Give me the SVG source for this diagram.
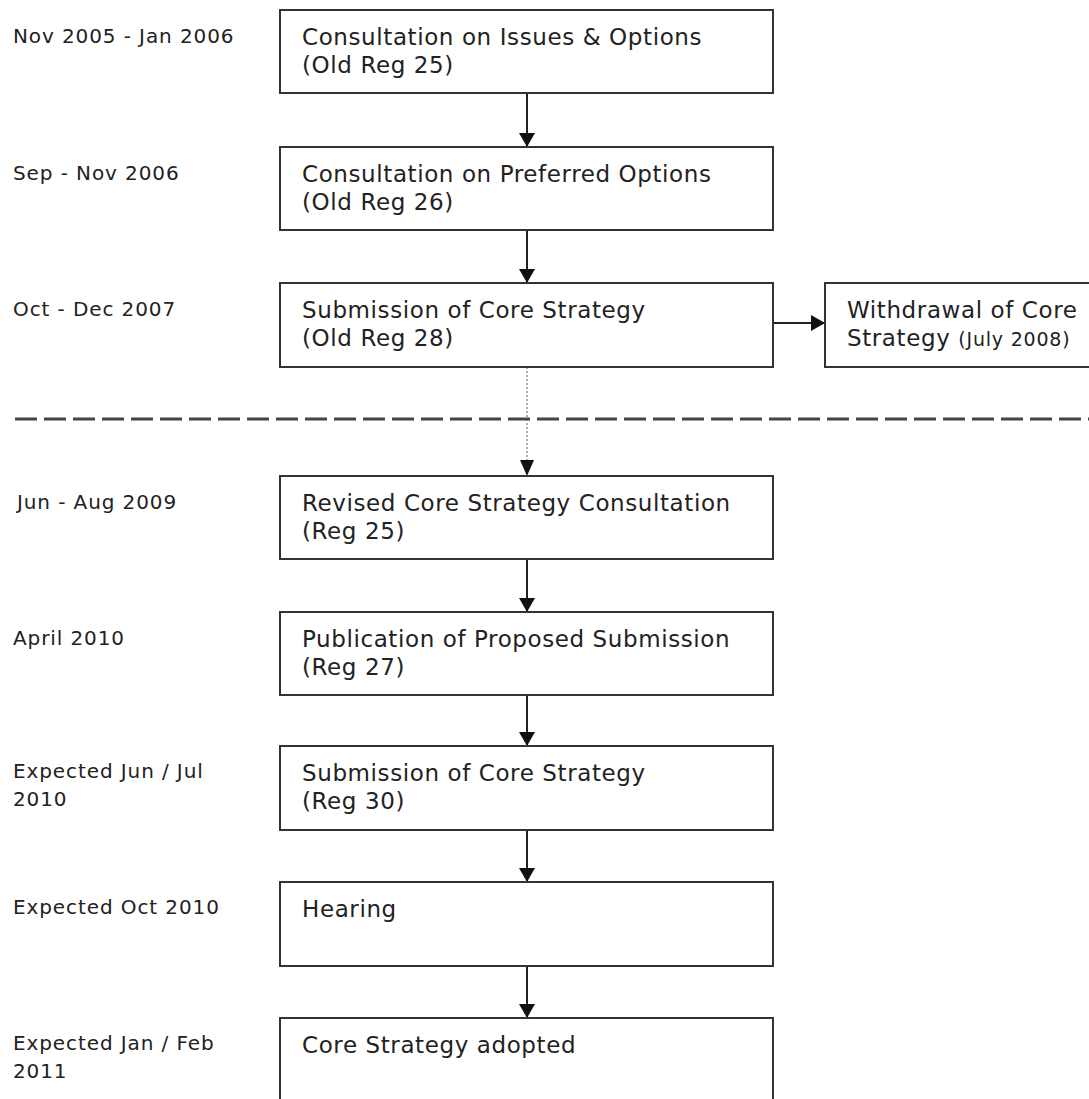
<svg xmlns="http://www.w3.org/2000/svg" width="1089" height="1099" viewBox="0 0 1089 1099">
<defs>
<style>
.box{fill:#fff;stroke:#333;stroke-width:2}
.t{font-family:"DejaVu Sans","Liberation Sans",sans-serif;font-size:23px;letter-spacing:0.6px;fill:#222}
.lbl{font-family:"DejaVu Sans","Liberation Sans",sans-serif;font-size:20px;letter-spacing:0.9px;fill:#222}
.sm{font-size:19px;letter-spacing:0.8px}
.c{stroke:#222;stroke-width:2;fill:none}
.dot{stroke:#777;stroke-width:1.2;stroke-dasharray:2 2;fill:none}
.sep{stroke:#444;stroke-width:3;stroke-dasharray:22 7;fill:none}
</style>
<marker id="ah" viewBox="0 0 14 16" refX="14" refY="8" markerWidth="14" markerHeight="16" markerUnits="userSpaceOnUse" orient="auto">
<path d="M0,0 L14,8 L0,16 Z" fill="#111"/>
</marker>
</defs>
<rect width="1089" height="1099" fill="#fff"/>
<g id="labels">
<text class="lbl" x="13" y="43">Nov 2005 - Jan 2006</text>
<text class="lbl" x="13" y="180">Sep - Nov 2006</text>
<text class="lbl" x="13" y="316">Oct - Dec 2007</text>
<text class="lbl" x="17" y="509">Jun - Aug 2009</text>
<text class="lbl" x="13" y="645">April 2010</text>
<text class="lbl" x="13" y="778">Expected Jun / Jul</text>
<text class="lbl" x="13" y="806">2010</text>
<text class="lbl" x="13" y="914">Expected Oct 2010</text>
<text class="lbl" x="13" y="1050">Expected Jan / Feb</text>
<text class="lbl" x="13" y="1078">2011</text>
</g>
<g id="connectors">
<line class="c" x1="527" y1="93" x2="527" y2="147" marker-end="url(#ah)"/>
<line class="c" x1="527" y1="230" x2="527" y2="283" marker-end="url(#ah)"/>
<line class="dot" x1="527" y1="367" x2="527" y2="460"/>
<path d="M520,460 L534,460 L527,476 Z" fill="#111"/>
<line class="c" x1="773" y1="323" x2="825" y2="323" marker-end="url(#ah)"/>
<line class="c" x1="527" y1="559" x2="527" y2="612" marker-end="url(#ah)"/>
<line class="c" x1="527" y1="695" x2="527" y2="746" marker-end="url(#ah)"/>
<line class="c" x1="527" y1="830" x2="527" y2="882" marker-end="url(#ah)"/>
<line class="c" x1="527" y1="966" x2="527" y2="1018" marker-end="url(#ah)"/>
</g>
<line id="separator" class="sep" x1="15" y1="419" x2="1089" y2="419"/>
<g id="n1"><rect class="box" x="280" y="10" width="493" height="83"/>
<text class="t" x="302" y="45">Consultation on Issues &amp; Options</text>
<text class="t" x="302" y="73">(Old Reg 25)</text></g>
<g id="n2"><rect class="box" x="280" y="147" width="493" height="83"/>
<text class="t" x="302" y="182">Consultation on Preferred Options</text>
<text class="t" x="302" y="210">(Old Reg 26)</text></g>
<g id="n3"><rect class="box" x="280" y="283" width="493" height="84"/>
<text class="t" x="302" y="318">Submission of Core Strategy</text>
<text class="t" x="302" y="346">(Old Reg 28)</text></g>
<g id="n4"><rect class="box" x="825" y="283" width="275" height="84"/>
<text class="t" x="847" y="318">Withdrawal of Core</text>
<text class="t" x="847" y="346">Strategy <tspan class="sm">(July 2008)</tspan></text></g>
<g id="n5"><rect class="box" x="280" y="476" width="493" height="83"/>
<text class="t" x="302" y="511">Revised Core Strategy Consultation</text>
<text class="t" x="302" y="539">(Reg 25)</text></g>
<g id="n6"><rect class="box" x="280" y="612" width="493" height="83"/>
<text class="t" x="302" y="647">Publication of Proposed Submission</text>
<text class="t" x="302" y="675">(Reg 27)</text></g>
<g id="n7"><rect class="box" x="280" y="746" width="493" height="84"/>
<text class="t" x="302" y="781">Submission of Core Strategy</text>
<text class="t" x="302" y="809">(Reg 30)</text></g>
<g id="n8"><rect class="box" x="280" y="882" width="493" height="84"/>
<text class="t" x="302" y="917">Hearing</text></g>
<g id="n9"><rect class="box" x="280" y="1018" width="493" height="100"/>
<text class="t" x="302" y="1053">Core Strategy adopted</text></g>
</svg>
